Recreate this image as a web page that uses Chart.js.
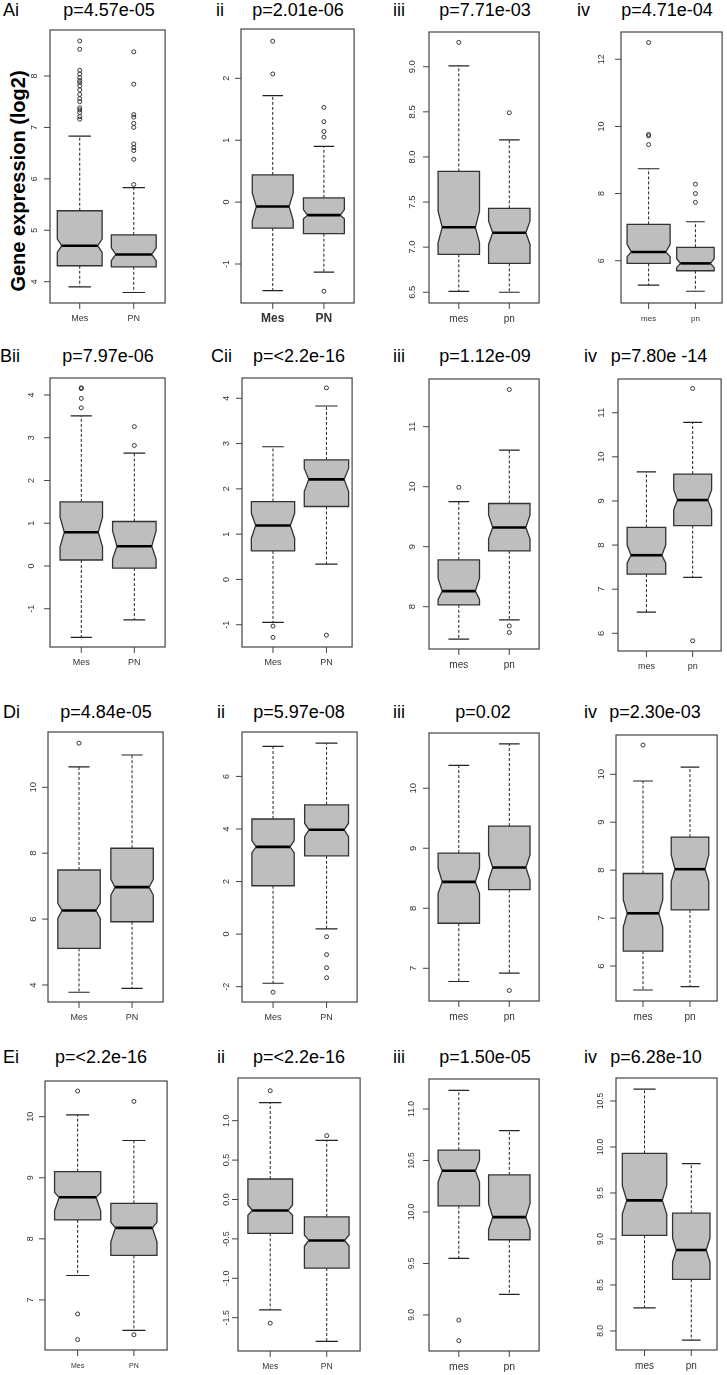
<!DOCTYPE html>
<html>
<head>
<meta charset="utf-8">
<script src="https://cdn.jsdelivr.net/npm/chart.js@4.4.1/dist/chart.umd.min.js"></script>
<style>
  body { margin: 0; background: #fff; width: 727px; height: 1375px; position: relative; overflow: hidden;
         font-family: "Liberation Sans", Arial, sans-serif; }
  canvas { position: absolute; }
  .lbl, .ttl { position: absolute; font-size: 18px; line-height: 18px; color: #000; white-space: nowrap; }
  .ttl { transform: translateX(-50%); }
  #ylab { position: absolute; left: 18px; top: 181px; transform: translate(-50%, -50%) rotate(-90deg);
          font: bold 20px "Liberation Sans", Arial, sans-serif; white-space: nowrap; line-height: 20px; }
</style>
</head>
<body>
<div id="ylab">Gene expression (log2)</div>
<script>
// panel order: Ai ii iii iv / Bii Cii iii iv / Di ii iii iv / Ei ii iii iv
const PANELS = ['Ai', 'ii', 'iii', 'iv', 'Bii', 'Cii', 'iii', 'iv', 'Di', 'ii', 'iii', 'iv', 'Ei', 'ii', 'iii', 'iv'];
const P_VALUES = ['p=4.57e-05', 'p=2.01e-06', 'p=7.71e-03', 'p=4.71e-04',
                  'p=7.97e-06', 'p=<2.2e-16', 'p=1.12e-09', 'p=7.80e -14',
                  'p=4.84e-05', 'p=5.97e-08', 'p=0.02', 'p=2.30e-03',
                  'p=<2.2e-16', 'p=<2.2e-16', 'p=1.50e-05', 'p=6.28e-10'];
const UPPER = ['Mes', 'PN'];
const LOWER = ['mes', 'pn'];
const GROUPS = [UPPER, UPPER, LOWER, LOWER, UPPER, UPPER, LOWER, LOWER,
                UPPER, UPPER, LOWER, LOWER, UPPER, UPPER, LOWER, LOWER];

const Y_TICKS = [
  ['4', '5', '6', '7', '8'], ['-1', '0', '1', '2'], ['6.5', '7.0', '7.5', '8.0', '8.5', '9.0'], ['6', '8', '10', '12'],
  ['-1', '0', '1', '2', '3', '4'], ['-1', '0', '1', '2', '3', '4'], ['8', '9', '10', '11'], ['6', '7', '8', '9', '10', '11'],
  ['4', '6', '8', '10'], ['-2', '0', '2', '4', '6'], ['7', '8', '9', '10'], ['6', '7', '8', '9', '10'],
  ['7', '8', '9', '10'], ['-1.5', '-1.0', '-0.5', '0.0', '0.5', '1.0'], ['9.0', '9.5', '10.0', '10.5', '11.0'],
  ['8.0', '8.5', '9.0', '9.5', '10.0', '10.5']
];
const Y_RANGE = [
  [3.586, 8.894], [-1.630, 2.797], [6.381, 9.385], [4.74, 12.813],
  [-1.896, 4.398], [-1.492, 4.448], [7.295, 11.795], [5.599, 11.764],
  [3.484, 11.678], [-2.583, 7.69], [6.455, 10.92], [5.27, 10.82],
  [6.18, 10.584], [-1.923, 1.542], [8.65, 11.291], [7.793, 10.75]
];

// [Mes, PN] per panel
const Q1 = [[4.31, 4.29], [-0.42, -0.51], [6.92, 6.82], [5.92, 5.70],
            [0.14, -0.05], [0.63, 1.61], [8.03, 8.93], [7.34, 8.44],
            [5.11, 5.92], [1.84, 2.98], [7.75, 8.31], [6.31, 7.17],
            [8.31, 7.73], [-0.43, -0.87], [10.06, 9.73], [9.04, 8.56]];
const MEDIAN = [[4.70, 4.53], [-0.07, -0.21], [7.22, 7.16], [6.26, 5.92],
                [0.79, 0.46], [1.19, 2.21], [8.26, 9.32], [7.77, 9.02],
                [6.26, 6.97], [3.32, 3.97], [8.44, 8.68], [7.10, 8.02],
                [8.68, 8.18], [-0.14, -0.52], [10.40, 9.95], [9.42, 8.88]];
const Q3 = [[5.38, 4.91], [0.44, 0.07], [7.84, 7.43], [7.08, 6.40],
            [1.50, 1.04], [1.72, 2.64], [8.78, 9.72], [8.40, 9.61],
            [7.49, 8.15], [4.38, 4.92], [8.92, 9.37], [7.93, 8.69],
            [9.10, 8.58], [0.26, -0.22], [10.60, 10.36], [9.93, 9.28]];
const NOTCH_LO = [[4.57, 4.41], [-0.30, -0.27], [7.05, 7.03], [6.12, 5.80],
                  [0.45, 0.16], [0.91, 1.94], [8.12, 9.13], [7.59, 8.80],
                  [6.02, 6.73], [3.10, 3.71], [8.25, 8.47], [6.81, 7.76],
                  [8.46, 7.95], [-0.20, -0.59], [10.29, 9.83], [9.27, 8.75]];
const NOTCH_HI = [[4.83, 4.66], [0.15, -0.12], [7.40, 7.29], [6.49, 6.06],
                  [1.14, 0.82], [1.46, 2.45], [8.47, 9.53], [8.00, 9.25],
                  [6.48, 7.21], [3.56, 4.22], [8.67, 8.89], [7.38, 8.32],
                  [8.76, 8.27], [-0.07, -0.45], [10.50, 10.08], [9.58, 9.01]];
const WHISK_LO = [[3.90, 3.79], [-1.43, -1.13], [6.51, 6.50], [5.27, 5.09],
                  [-1.67, -1.26], [-0.95, 0.34], [7.46, 7.78], [6.48, 7.27],
                  [3.78, 3.90], [-1.87, 0.20], [6.78, 6.92], [5.50, 5.57],
                  [7.40, 6.50], [-1.40, -1.80], [9.55, 9.20], [8.25, 7.90]];
const WHISK_HI = [[6.83, 5.83], [1.72, 0.90], [9.01, 8.19], [8.74, 7.16],
                  [3.51, 2.64], [2.93, 3.83], [9.75, 10.61], [9.66, 10.78],
                  [10.62, 10.98], [7.14, 7.27], [10.38, 10.74], [9.86, 10.15],
                  [10.03, 9.61], [1.23, 0.75], [11.18, 10.79], [10.63, 9.82]];
const OUTLIERS = [
  [[8.68, 8.52, 8.11, 8.04, 7.97, 7.91, 7.87, 7.81, 7.73, 7.64, 7.56, 7.50, 7.38, 7.34, 7.29, 7.21, 7.16],
   [8.47, 7.84, 7.25, 7.20, 7.08, 7.00, 6.68, 6.61, 6.55, 6.38, 5.89]],
  [[2.60, 2.07], [1.53, 1.30, 1.14, 1.05, -1.44]],
  [[9.27], [8.49]],
  [[12.5, 9.76, 9.72, 9.46], [8.28, 8.00, 7.74]],
  [[4.17, 4.15, 3.92, 3.70], [3.26, 2.82]],
  [[-1.03, -1.28], [4.23, -1.23]],
  [[9.99], [11.62, 7.68, 7.57]],
  [[], [11.55, 5.83]],
  [[11.34], []],
  [[-2.21], [-0.10, -0.78, -1.28, -1.66]],
  [[], [6.63]],
  [[10.61], []],
  [[10.42, 6.77, 6.35], [10.25, 6.43]],
  [[1.38, -1.57], [0.81]],
  [[8.95, 8.75], []],
  [[], []]
];

// layout: plot frames [left, top, right, bottom], x ranges, box widths
const FRAMES = [
  [50, 30, 166, 303], [241, 29, 355, 303], [429, 32, 540, 303], [621, 32, 723, 303],
  [50, 378, 166, 647], [242, 378, 353, 647], [429, 379, 540, 649], [618, 379, 722, 651],
  [48, 732, 164, 1002], [242, 732, 358, 1002], [429, 733, 540, 1001], [616, 735, 718, 1001],
  [45, 1081, 168, 1350], [238, 1078, 361, 1351], [429, 1079, 540, 1351], [616, 1078, 717, 1350]
];
const X_RANGE = [
  [0.45, 2.58], [0.38, 2.59], [0.41, 2.59], [0.41, 2.57],
  [0.41, 2.58], [0.42, 2.48], [0.41, 2.59], [0.385, 2.615],
  [0.415, 2.585], [0.42, 2.57], [0.41, 2.59], [0.425, 2.577],
  [0.42, 2.59], [0.43, 2.59], [0.41, 2.59], [0.39, 2.55]
];
const BOX_WIDTH = [
  [0.83, 0.83], [0.80, 0.80], [0.82, 0.82], [0.92, 0.80],
  [0.80, 0.82], [0.81, 0.83], [0.82, 0.82], [0.835, 0.82],
  [0.80, 0.80], [0.79, 0.82], [0.82, 0.82], [0.84, 0.80],
  [0.82, 0.82], [0.79, 0.79], [0.82, 0.82], [0.95, 0.80]
];
const TICK_LABEL_OFF = [15, 14, 17, 19, 18, 15, 17, 17, 15, 15, 16, 15, 14, 11, 17, 15];
const TICK_FONT = [9, 9, 9.5, 9, 9, 9, 9.5, 9.5, 9.5, 9, 9.5, 9.5, 9, 9, 8.5, 8.5];
const X_FONT = ['9px', 'bold 12px', '10px', '8px', '9px', '9px', '10px', '9px',
                '9px', '9px', '10px', '10px', '7px', '8.5px', '10.5px', '10px'];
const ROW_BASELINE = [16, 362, 718, 1063];
const LABEL_X = [3, 216, 393, 577, 0, 211, 393, 584, 3, 217, 393, 584, 3, 217, 393, 584];
const TITLE_X = [109, 298, 485, 667, 108, 299, 485, 659, 106, 299, 483, 655, 101, 299, 485, 656];

const FONT = '"Liberation Sans", Arial, sans-serif';
const PAD = { left: 46, top: 6, right: 4, bottom: 28 };

const boxplot = {
  id: 'boxplot',
  beforeDatasetsDraw(chart, args, opts) {
    const i = opts.panel;
    const { ctx, scales: { x, y } } = chart;
    ctx.save();
    for (let g = 0; g < 2; g++) {
      const cx = x.getPixelForValue(g + 1);
      const half = Math.abs(x.getPixelForValue(g + 1 + BOX_WIDTH[i][g] / 2) - cx);
      const cap = half * 0.5;
      const inset = half * 0.2;
      const [q1, md, q3, nl, nh, wl, wh] = [Q1, MEDIAN, Q3, NOTCH_LO, NOTCH_HI, WHISK_LO, WHISK_HI]
        .map(a => y.getPixelForValue(a[i][g]));

      // dashed whiskers + staples
      ctx.strokeStyle = '#222';
      ctx.lineWidth = 1;
      ctx.setLineDash([3, 2]);
      ctx.beginPath();
      ctx.moveTo(cx, q3); ctx.lineTo(cx, wh);
      ctx.moveTo(cx, q1); ctx.lineTo(cx, wl);
      ctx.stroke();
      ctx.setLineDash([]);
      ctx.lineWidth = 1.2;
      ctx.beginPath();
      ctx.moveTo(cx - cap, wh); ctx.lineTo(cx + cap, wh);
      ctx.moveTo(cx - cap, wl); ctx.lineTo(cx + cap, wl);
      ctx.stroke();

      // notched box
      ctx.beginPath();
      ctx.moveTo(cx - half, q1); ctx.lineTo(cx - half, nl); ctx.lineTo(cx - half + inset, md);
      ctx.lineTo(cx - half, nh); ctx.lineTo(cx - half, q3); ctx.lineTo(cx + half, q3);
      ctx.lineTo(cx + half, nh); ctx.lineTo(cx + half - inset, md); ctx.lineTo(cx + half, nl);
      ctx.lineTo(cx + half, q1); ctx.closePath();
      ctx.fillStyle = '#bebebe';
      ctx.fill();
      ctx.lineWidth = 1.3;
      ctx.strokeStyle = '#333';
      ctx.stroke();

      ctx.beginPath();
      ctx.lineWidth = 2.6;
      ctx.strokeStyle = '#000';
      ctx.moveTo(cx - half + inset, md); ctx.lineTo(cx + half - inset, md);
      ctx.stroke();
    }
    ctx.restore();
  },
  afterDraw(chart, args, opts) {
    const i = opts.panel;
    const { ctx, chartArea: a, scales: { x, y } } = chart;
    ctx.save();
    ctx.strokeStyle = '#444';
    ctx.lineWidth = 1.2;
    ctx.strokeRect(a.left, a.top, a.right - a.left, a.bottom - a.top);

    ctx.fillStyle = '#333';
    ctx.lineWidth = 1;
    y.ticks.forEach((t, k) => {
      const py = y.getPixelForValue(t.value);
      ctx.beginPath();
      ctx.moveTo(a.left, py); ctx.lineTo(a.left - 6, py);
      ctx.stroke();
      ctx.save();
      ctx.translate(a.left - TICK_LABEL_OFF[i], py);
      ctx.rotate(-Math.PI / 2);
      ctx.font = TICK_FONT[i] + 'px ' + FONT;
      ctx.textAlign = 'center';
      ctx.textBaseline = 'middle';
      ctx.fillText(Y_TICKS[i][k], 0, 0);
      ctx.restore();
    });

    ctx.font = X_FONT[i] + ' ' + FONT;
    ctx.textAlign = 'center';
    ctx.textBaseline = 'middle';
    x.ticks.forEach((t, k) => {
      const px = x.getPixelForValue(t.value);
      ctx.beginPath();
      ctx.moveTo(px, a.bottom); ctx.lineTo(px, a.bottom + 6);
      ctx.stroke();
      ctx.fillText(GROUPS[i][k], px, a.bottom + 16);
    });
    ctx.restore();
  }
};

function addText(cls, text, left, top) {
  const d = document.createElement('div');
  d.className = cls;
  d.textContent = text;
  d.style.left = left + 'px';
  d.style.top = top + 'px';
  document.body.appendChild(d);
}

PANELS.forEach((name, i) => {
  const [l, t, r, b] = FRAMES[i];
  const row = Math.floor(i / 4);
  addText('lbl', name, LABEL_X[i], ROW_BASELINE[row] - 15);
  addText('ttl', P_VALUES[i], TITLE_X[i], ROW_BASELINE[row] - 15);

  const canvas = document.createElement('canvas');
  canvas.width = r - l + PAD.left + PAD.right;
  canvas.height = b - t + PAD.top + PAD.bottom;
  canvas.style.left = (l - PAD.left) + 'px';
  canvas.style.top = (t - PAD.top) + 'px';
  document.body.appendChild(canvas);

  const points = [];
  OUTLIERS[i].forEach((vals, g) => vals.forEach(v => points.push({ x: g + 1, y: v })));

  new Chart(canvas, {
    type: 'scatter',
    data: {
      datasets: [{
        data: points,
        pointStyle: 'circle',
        pointRadius: 2,
        borderWidth: 0.9,
        borderColor: '#222',
        backgroundColor: 'rgba(0,0,0,0)',
      }],
    },
    options: {
      responsive: false,
      animation: false,
      devicePixelRatio: 1,
      events: [],
      layout: { padding: PAD },
      plugins: {
        legend: { display: false },
        tooltip: { enabled: false },
        boxplot: { panel: i },
      },
      scales: {
        x: {
          type: 'linear',
          min: X_RANGE[i][0],
          max: X_RANGE[i][1],
          grid: { display: false },
          border: { display: false },
          ticks: { display: false },
          afterBuildTicks: (axis) => { axis.ticks = [{ value: 1 }, { value: 2 }]; },
          afterFit: (axis) => { axis.height = 0; },
        },
        y: {
          min: Y_RANGE[i][0],
          max: Y_RANGE[i][1],
          grid: { display: false },
          border: { display: false },
          ticks: { display: false },
          afterBuildTicks: (axis) => { axis.ticks = Y_TICKS[i].map(s => ({ value: Number(s) })); },
          afterFit: (axis) => { axis.width = 0; },
        },
      },
    },
    plugins: [boxplot],
  });
});
</script>
</body>
</html>
